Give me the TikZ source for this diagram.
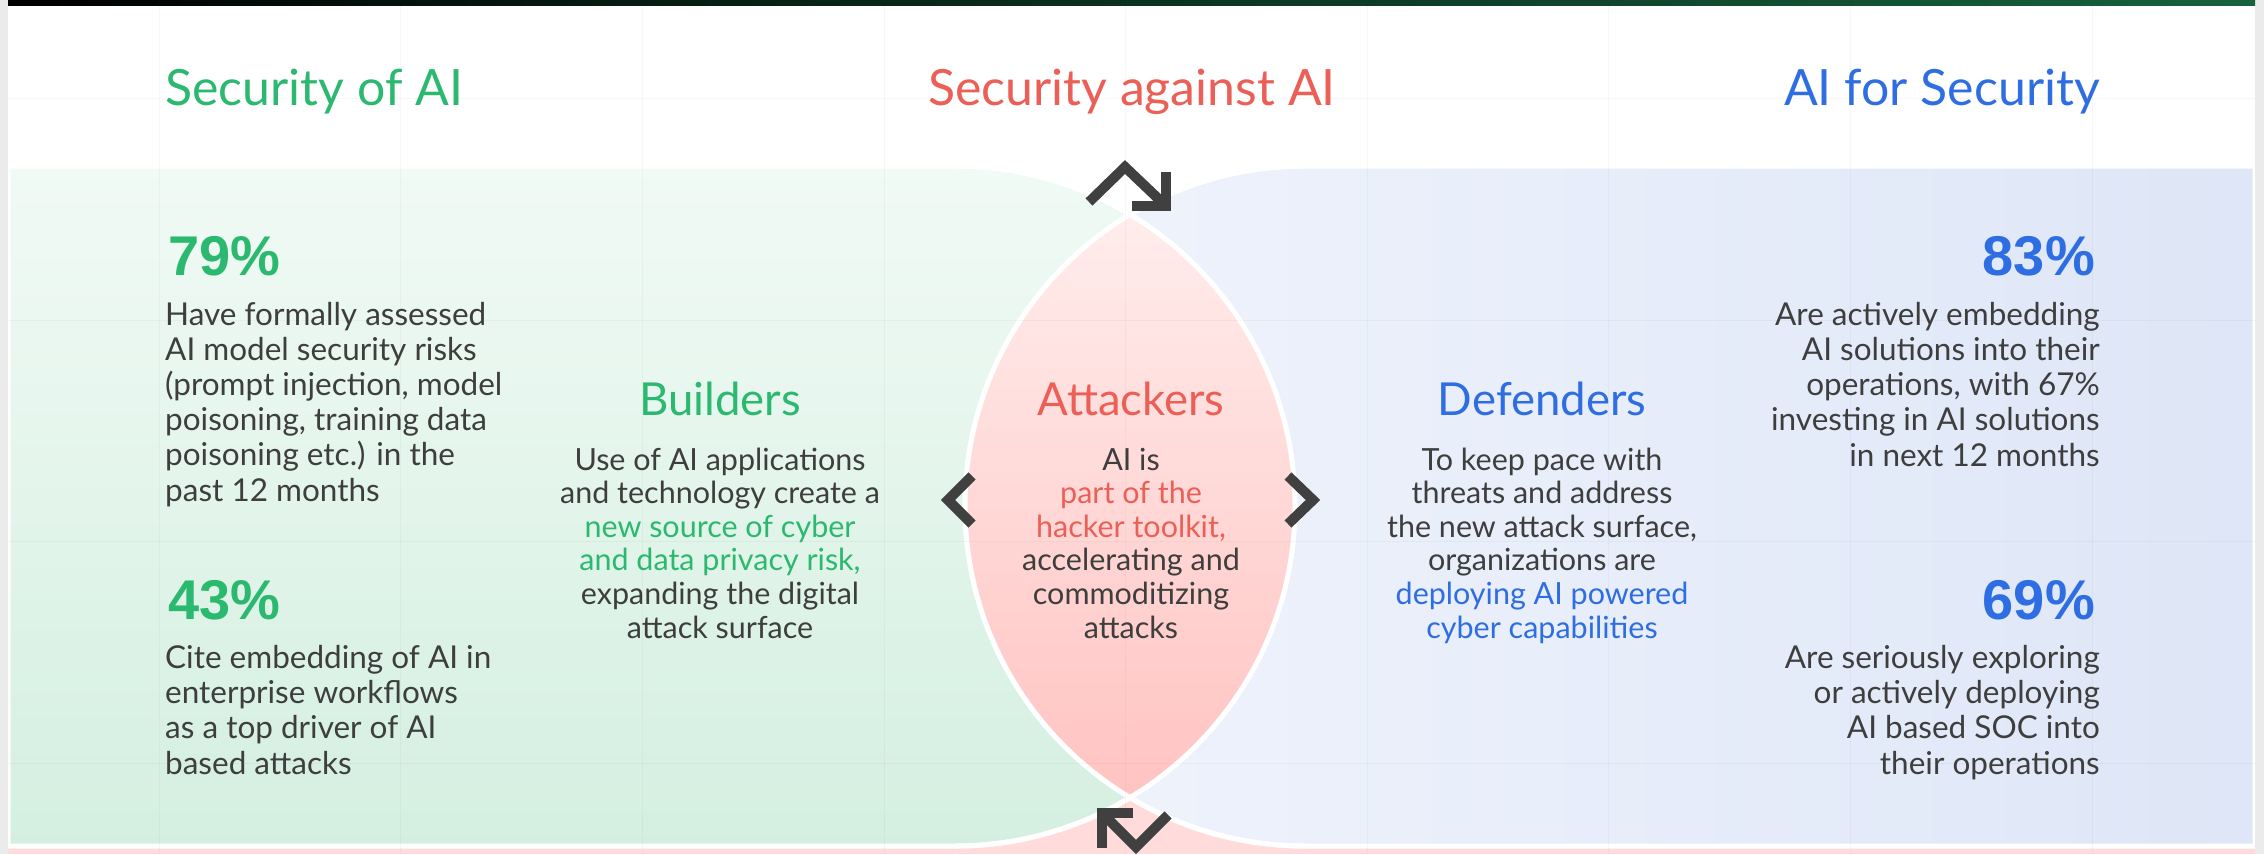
\documentclass[tikz,border=0pt]{standalone}
\usepackage{fontspec}
\setmainfont{Lato}
\newfontfamily\numfont{Liberation Sans}
\usetikzlibrary{positioning}

\definecolor{secgreen}{HTML}{2BB86F}
\definecolor{secred}{HTML}{EC5F57}
\definecolor{secblue}{HTML}{2E6DE2}
\definecolor{bodygray}{HTML}{3E3E3E}
\definecolor{icongray}{HTML}{404040}
\definecolor{bordergray}{HTML}{EBEBEB}
\definecolor{greentop}{HTML}{F1FAF5}
\definecolor{greenbot}{HTML}{D4EFE1}
\definecolor{blueleft}{HTML}{F0F4FC}
\definecolor{blueright}{HTML}{DEE6F7}
\definecolor{lenstop}{HTML}{FFF0EF}
\definecolor{lensmid}{HTML}{FFE4E3}
\definecolor{lensbot}{HTML}{FFC0BE}
\definecolor{pinkbg}{HTML}{FFDCDB}
\definecolor{barnavy}{HTML}{010A1F}
\definecolor{bargreen}{HTML}{16623F}

\tikzset{
  heading/.style={font=\fontsize{50}{54}\selectfont, inner sep=0pt, anchor=base},
  role/.style={font=\fontsize{45.5}{50}\selectfont, inner sep=0pt, anchor=base},
  blurb/.style={font=\fontsize{30.5}{33.6}\selectfont, text=bodygray, inner sep=0pt, align=center, anchor=base},
  stat/.style={font=\numfont\bfseries\fontsize{56}{60}\selectfont, inner sep=0pt},
  statnote/.style={font=\fontsize{31.5}{35.2}\selectfont, text=bodygray, inner sep=0pt},
  icon/.style={draw=icongray, line width=10pt, miter limit=10}
}

\begin{document}
\begin{tikzpicture}[x=1pt, y=-1pt]
\def\xl{8}
\def\xr{2255}
\def\ytop{166}
\def\ybot{846}
\def\ymid{506}
\def\rad{340}
\def\xg{955}
\def\xb{1305}

\useasboundingbox (0,0) rectangle (2264,854);
\fill[white] (0,0) rectangle (2264,854);

% pink panel below
\fill[pinkbg] (\xl,700) rectangle (\xr,854);

% the two halves
\shadedraw[top color=greentop, bottom color=greenbot, draw=white, line width=5pt]
  (\xl,\ytop) -- (\xg,\ytop) arc[start angle=90, end angle=-90, radius=\rad pt] -- (\xl,\ybot) -- cycle;
\shadedraw[left color=blueleft, right color=blueright, draw=white, line width=5pt]
  (\xr,\ytop) -- (\xb,\ytop) arc[start angle=90, end angle=270, radius=\rad pt] -- (\xr,\ybot) -- cycle;

% lens in the middle
\begin{scope}
\clip (\xg,\ymid) circle[radius=\rad pt];
\shade[top color=lenstop, middle color=lensmid, bottom color=lensbot] (\xb,\ymid) circle[radius=\rad pt];
\end{scope}
\draw[white, line width=5pt] (\xg,\ytop) arc[start angle=90, end angle=-90, radius=\rad pt];
\draw[white, line width=5pt] (\xb,\ytop) arc[start angle=90, end angle=270, radius=\rad pt];

% faint grid
\foreach \k in {0,...,8}
  \draw[black, opacity=0.03] ({159+241.6*\k},5) -- ({159+241.6*\k},854);
\foreach \k in {0,...,3}
  \draw[black, opacity=0.03] (\xl,{98+221.7*\k}) -- (\xr,{98+221.7*\k});

% frame
\fill[bordergray] (0,0) rectangle (\xl,854);
\fill[bordergray] (\xr,0) rectangle (2264,854);
\shade[left color=black, middle color=barnavy, right color=bargreen] (\xl,0) rectangle (\xr,5);

% headings
\node[heading, text=secgreen, anchor=base west] (secof) at (165,105) {Security of AI};
\node[heading, text=secred] (secagainst) at (1132,105) {Security against AI};
\node[heading, text=secblue, anchor=base east] (aifor) at (2100,105) {AI for Security};

% left stats (base = last line)
\node[stat, text=secgreen, anchor=base west] (statleft) at (168,275) {79\%};
\node[statnote, align=left, anchor=base west] (noteleft) at (165,501)
  {Have formally assessed\\AI model security risks\\(prompt injection, model\\poisoning, training data\\poisoning etc.) in the\\past 12 months};
\node[stat, text=secgreen, anchor=base west] (statleftb) at (168,619) {43\%};
\node[statnote, align=left, anchor=base west] (noteleftb) at (165,774)
  {Cite embedding of AI in\\enterprise workflows\\as a top driver of AI\\based attacks};

% right stats
\node[stat, text=secblue, anchor=base east] (statright) at (2095,275) {83\%};
\node[statnote, align=right, anchor=base east] (noteright) at (2100,466)
  {Are actively embedding\\AI solutions into their\\operations, with 67\%\\investing in AI solutions\\in next 12 months};
\node[stat, text=secblue, anchor=base east] (statrightb) at (2095,619) {69\%};
\node[statnote, align=right, anchor=base east] (noterightb) at (2100,774)
  {Are seriously exploring\\or actively deploying\\AI based SOC into\\their operations};

% the three roles
\node[role, text=secgreen] (builders) at (720,415) {Builders};
\node[blurb] (buildtext) at (720,638)
  {Use of AI applications\\and technology create a\\\textcolor{secgreen}{new source of cyber}\\\textcolor{secgreen}{and data privacy risk,}\\expanding the digital\\attack surface};
\node[role, text=secred] (attackers) at (1131,415) {Attackers};
\node[blurb] (attacktext) at (1131,638)
  {AI is\\\textcolor{secred}{part of the}\\\textcolor{secred}{hacker toolkit,}\\accelerating and\\commoditizing\\attacks};
\node[role, text=secblue] (defenders) at (1542,415) {Defenders};
\node[blurb] (defendtext) at (1542,638)
  {To keep pace with\\threats and address\\the new attack surface,\\organizations are\\\textcolor{secblue}{deploying AI powered}\\\textcolor{secblue}{cyber capabilities}};

% turn arrows
\draw[icon] (1089,202) -- (1125,167) -- (1166,206);
\draw[icon] (1132,206) -- (1166,206) -- (1166,172);
\draw[icon] (1102,813) -- (1136,847) -- (1168,815);
\draw[icon] (1102,848) -- (1102,813) -- (1133,813);

% chevrons
\draw[icon] (972,476) -- (948,500) -- (972,524);
\draw[icon] (1288,476) -- (1313,500) -- (1288,524);

\end{tikzpicture}
\end{document}
